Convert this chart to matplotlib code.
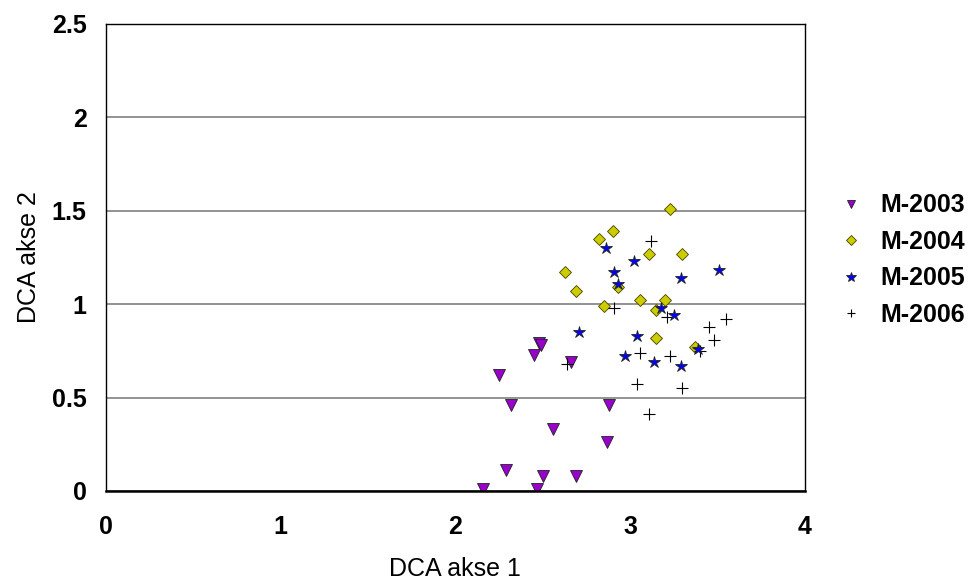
import matplotlib
matplotlib.use('Agg')
import matplotlib.pyplot as plt

# DCA scores per year
x_2003 = [2.48, 2.49, 2.45, 2.66, 2.25, 2.32, 2.88, 2.56, 2.87, 2.29, 2.50, 2.69, 2.16, 2.47]
y_2003 = [0.79, 0.78, 0.73, 0.69, 0.62, 0.46, 0.46, 0.33, 0.26, 0.11, 0.08, 0.08, 0.01, 0.01]

x_2004 = [2.90, 2.82, 2.63, 2.69, 2.93, 2.85, 3.23, 3.11, 3.30, 3.06, 3.20, 3.15, 3.15, 3.37]
y_2004 = [1.39, 1.35, 1.17, 1.07, 1.09, 0.99, 1.51, 1.27, 1.27, 1.02, 1.02, 0.97, 0.82, 0.77]

x_2005 = [2.86, 2.91, 2.93, 2.71, 3.02, 3.29, 3.51, 3.18, 3.25, 3.04, 2.97, 3.14, 3.29, 3.39]
y_2005 = [1.30, 1.17, 1.11, 0.85, 1.23, 1.14, 1.18, 0.98, 0.94, 0.83, 0.72, 0.69, 0.67, 0.76]

x_2006 = [3.12, 2.91, 3.21, 3.55, 3.45, 3.48, 3.06, 3.23, 3.04, 3.30, 3.11, 2.64, 3.40]
y_2006 = [1.34, 0.98, 0.93, 0.92, 0.88, 0.81, 0.74, 0.72, 0.57, 0.55, 0.41, 0.68, 0.75]

x_ticks = [0, 1, 2, 3, 4]
y_ticks = [0, 0.5, 1, 1.5, 2, 2.5]
y_tick_labels = ['0', '0.5', '1', '1.5', '2', '2.5']

plt.rcParams['font.family'] = ['Liberation Sans', 'DejaVu Sans']

fig = plt.figure(figsize=(9.73, 5.79), dpi=100)
ax = fig.add_axes([0.109, 0.152, 0.718, 0.807])

ax.plot(x_2003, y_2003, linestyle='none', marker='v', markersize=8,
        markerfacecolor='#9900CC', markeredgecolor='#222222', markeredgewidth=0.6, label='M-2003')
ax.plot(x_2004, y_2004, linestyle='none', marker='D', markersize=6,
        markerfacecolor='#CCCC00', markeredgecolor='#444400', markeredgewidth=0.6, label='M-2004')
ax.plot(x_2006, y_2006, linestyle='none', marker='+', markersize=8,
        color='black', markeredgewidth=0.8, label='M-2006')
ax.plot(x_2005, y_2005, linestyle='none', marker='*', markersize=9,
        markerfacecolor='#0000FF', markeredgecolor='#222222', markeredgewidth=0.6, label='M-2005')

ax.set_xlim(0, 4)
ax.set_ylim(0, 2.5)
ax.set_xticks(x_ticks)
ax.set_yticks(y_ticks)
ax.set_yticklabels(y_tick_labels)

for lab in ax.get_xticklabels() + ax.get_yticklabels():
    lab.set_fontweight('bold')
    lab.set_fontsize(18)

ax.tick_params(axis='both', length=0)
ax.tick_params(axis='x', pad=17)
ax.tick_params(axis='y', pad=14)
ax.yaxis.grid(True, color='#808080', linewidth=1.2)
ax.set_axisbelow(True)
for s in ax.spines.values():
    s.set_color('black')
    s.set_linewidth(1.0)
ax.spines['bottom'].set_linewidth(1.8)

ax.set_xlabel('DCA akse 1', fontsize=18, labelpad=13)
ax.set_ylabel('DCA akse 2', fontsize=18, labelpad=8)

# legend order as in the original
handles, labels = ax.get_legend_handles_labels()
ordem = ['M-2003', 'M-2004', 'M-2005', 'M-2006']
h = [handles[labels.index(o)] for o in ordem]
leg = ax.legend(h, ordem, loc='center left', bbox_to_anchor=(1.012, 0.494), frameon=False,
                prop={'weight': 'bold', 'size': 18}, handlelength=1.6, handletextpad=0.4,
                labelspacing=0.5, markerscale=0.8, borderaxespad=0.3)

plt.savefig('out.png', dpi=100)
plt.close('all')
